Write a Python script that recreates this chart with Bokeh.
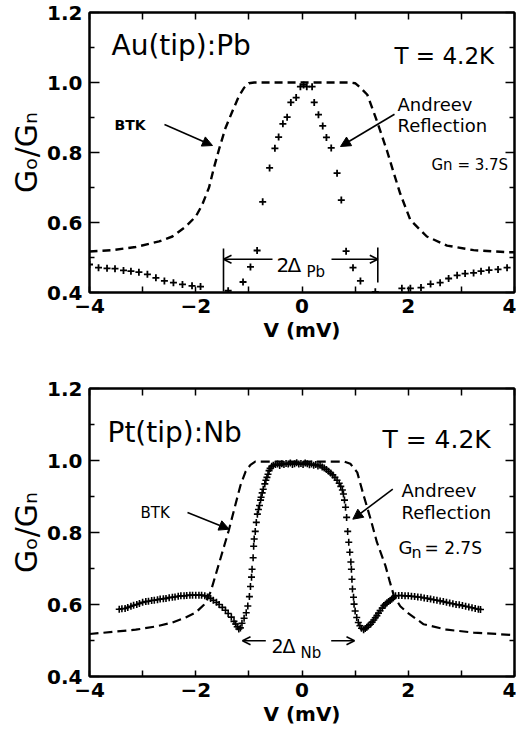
import numpy as np
from bokeh.plotting import figure
from bokeh.models import (Label, Arrow, NormalHead, OpenHead, LinearAxis, FixedTicker, Range1d,
                          PrintfTickFormatter)
from bokeh.layouts import column
from bokeh.embed import file_html
from bokeh.resources import INLINE

# ---------------- data ----------------
# Upper panel: Au(tip):Pb
pb_btk_v = [-4.0, -3.57, -3.13, -2.69, -2.44, -2.19, -2.0, -1.88, -1.75, -1.66, -1.56, -1.44,
            -1.31, -1.19, -1.09, -1.0, -0.9, 0.9, 1.0, 1.1, 1.23, 1.41, 1.6, 1.72, 1.85, 2.04,
            2.35, 2.73, 3.23, 3.86, 4.0]
pb_btk_g = [0.517, 0.521, 0.530, 0.546, 0.560, 0.588, 0.617, 0.650, 0.700, 0.755, 0.810, 0.870,
            0.918, 0.960, 0.985, 0.998, 1.0, 1.0, 0.998, 0.985, 0.965, 0.890, 0.805, 0.745, 0.682,
            0.607, 0.560, 0.534, 0.521, 0.515, 0.515]

pb_ar_v = [-4.00, -3.83, -3.67, -3.52, -3.36, -3.22, -3.07, -2.91, -2.75, -2.59, -2.42, -2.25,
           -2.07, -1.91, -1.39, -1.11, -0.97, -0.845, -0.74, -0.61, -0.51, -0.44, -0.36, -0.28,
           -0.21, -0.11, -0.03, 0.03, 0.09, 0.19, 0.23, 0.31, 0.39, 0.46, 0.55, 0.66, 0.74, 0.83,
           0.96, 1.10, 1.38, 1.88, 2.04, 2.24, 2.42, 2.60, 2.76, 2.92, 3.07, 3.23, 3.37, 3.52,
           3.69, 3.86]
pb_ar_g = [0.480, 0.471, 0.469, 0.468, 0.463, 0.461, 0.458, 0.452, 0.442, 0.433, 0.428, 0.423,
           0.419, 0.417, 0.405, 0.430, 0.473, 0.520, 0.659, 0.756, 0.812, 0.844, 0.882, 0.901,
           0.943, 0.957, 0.988, 0.993, 0.988, 0.988, 0.943, 0.908, 0.876, 0.843, 0.813, 0.741,
           0.664, 0.518, 0.471, 0.433, 0.402, 0.412, 0.412, 0.414, 0.424, 0.428, 0.440, 0.449,
           0.454, 0.456, 0.461, 0.464, 0.466, 0.471]

# Lower panel: Pt(tip):Nb
nb_btk_v = [-4.0, -3.56, -3.13, -2.75, -2.44, -2.19, -2.0, -1.84, -1.72, -1.63, -1.53, -1.45,
            -1.38, -1.28, -1.16, -1.06, -0.97, -0.88, 0.8, 0.91, 1.04, 1.16, 1.29, 1.41, 1.48,
            1.57, 1.65, 1.73, 1.85, 1.98, 2.29, 2.73, 3.23, 4.0]
nb_btk_g = [0.518, 0.524, 0.530, 0.539, 0.550, 0.564, 0.578, 0.600, 0.635, 0.680, 0.730, 0.770,
            0.805, 0.862, 0.930, 0.970, 0.988, 0.997, 0.997, 0.991, 0.967, 0.903, 0.838, 0.773,
            0.745, 0.708, 0.665, 0.624, 0.595, 0.578, 0.545, 0.530, 0.522, 0.515]

nb_ar_v = [-3.44, -3.39, -3.33, -3.28, -3.22, -3.17, -3.11, -3.06, -3.00, -2.94, -2.89, -2.83,
           -2.78, -2.72, -2.67, -2.61, -2.56, -2.50, -2.44, -2.39, -2.33, -2.28, -2.22, -2.17,
           -2.11, -2.06, -2.00, -1.94, -1.89, -1.83, -1.78, -1.72, -1.67, -1.61, -1.56, -1.50,
           -1.44, -1.39, -1.33, -1.28, -1.25, -1.22, -1.19, -1.16, -1.13, -1.09, -1.05, -1.02,
           -0.99, -0.97, -0.95, -0.94, -0.92, -0.91, -0.90, -0.88, -0.86, -0.84, -0.82, -0.80,
           -0.78, -0.77, -0.75, -0.73, -0.70, -0.68, -0.66, -0.64, -0.62, -0.60, -0.57, -0.54,
           -0.50, -0.46, -0.42, -0.38, -0.34, -0.30, -0.26, -0.22, -0.18, -0.14, -0.10, -0.06,
           -0.02, 0.02, 0.06, 0.10, 0.14, 0.18, 0.22, 0.26, 0.30, 0.34, 0.38, 0.42, 0.46, 0.50,
           0.54, 0.58, 0.62, 0.66, 0.70, 0.73, 0.76, 0.78, 0.80, 0.82, 0.84, 0.86, 0.88, 0.90,
           0.92, 0.93, 0.94, 0.95, 0.97, 0.98, 1.00, 1.03, 1.06, 1.09, 1.12, 1.16, 1.19, 1.22,
           1.25, 1.29, 1.32, 1.35, 1.38, 1.41, 1.44, 1.47, 1.51, 1.54, 1.57, 1.60, 1.63, 1.66,
           1.69, 1.72, 1.76, 1.82, 1.88, 1.94, 2.00, 2.06, 2.12, 2.18, 2.24, 2.30, 2.36, 2.42,
           2.48, 2.54, 2.60, 2.66, 2.72, 2.78, 2.84, 2.90, 2.96, 3.02, 3.08, 3.14, 3.20, 3.26,
           3.32, 3.36]
nb_ar_g = [0.587, 0.588, 0.589, 0.592, 0.595, 0.598, 0.600, 0.603, 0.606, 0.608, 0.609, 0.611,
           0.612, 0.613, 0.615, 0.616, 0.617, 0.619, 0.620, 0.621, 0.623, 0.624, 0.624, 0.625,
           0.626, 0.626, 0.626, 0.626, 0.626, 0.624, 0.621, 0.617, 0.612, 0.606, 0.600, 0.592,
           0.584, 0.575, 0.565, 0.553, 0.546, 0.538, 0.532, 0.535, 0.548, 0.562, 0.577, 0.596,
           0.622, 0.650, 0.676, 0.698, 0.730, 0.762, 0.782, 0.803, 0.828, 0.851, 0.864, 0.875,
           0.890, 0.898, 0.910, 0.920, 0.935, 0.945, 0.953, 0.962, 0.972, 0.978, 0.984, 0.987,
           0.989, 0.990, 0.986, 0.991, 0.989, 0.992, 0.990, 0.993, 0.989, 0.991, 0.994, 0.990,
           0.992, 0.989, 0.993, 0.991, 0.988, 0.990, 0.987, 0.989, 0.985, 0.987, 0.982, 0.979,
           0.975, 0.970, 0.965, 0.960, 0.953, 0.945, 0.937, 0.928, 0.918, 0.907, 0.890, 0.870,
           0.842, 0.803, 0.773, 0.745, 0.718, 0.698, 0.670, 0.643, 0.620, 0.601, 0.582, 0.564,
           0.550, 0.541, 0.534, 0.530, 0.533, 0.537, 0.541, 0.545, 0.551, 0.557, 0.563, 0.569,
           0.576, 0.583, 0.590, 0.597, 0.601, 0.605, 0.608, 0.611, 0.615, 0.619, 0.624, 0.625,
           0.625, 0.624, 0.624, 0.623, 0.622, 0.621, 0.620, 0.618, 0.617, 0.615, 0.613, 0.612,
           0.610, 0.608, 0.606, 0.604, 0.602, 0.600, 0.599, 0.597, 0.595, 0.593, 0.591, 0.589,
           0.587, 0.586]

x_major = [-4, -2, 0, 2, 4]
x_minor = [-3, -1, 1, 3]
x_all = [-4, -3, -2, -1, 0, 1, 2, 3, 4]
x_tick_labels = {-4: "\u22124", -2: "\u22122", 0: "0", 2: "2", 4: "4"}
y_major = [0.4, 0.6, 0.8, 1.0, 1.2]
y_minor = [0.5, 0.7, 0.9, 1.1]
x_title = "V (mV)"
y_title = "G\u2092/G\u2099"

# ---------------- layout ----------------
W = 516
FL, FR = 97, 522   # frame left/right in page px
FONT = "DejaVu Sans"


def make_fig(h, top_b, bot_b):
    p = figure(width=W, height=h, x_range=Range1d(-4, 4), y_range=Range1d(0.4, 1.2),
               output_backend="svg", toolbar_location=None,
               min_border_left=FL - 8, min_border_right=W + 8 - FR,
               min_border_top=top_b, min_border_bottom=bot_b)
    p.grid.visible = False
    p.outline_line_color = "black"
    p.outline_line_width = 2
    p.background_fill_color = "white"
    p.border_fill_color = "white"

    xa = p.xaxis[0]
    xa.ticker = FixedTicker(ticks=x_major, minor_ticks=x_minor)
    xa.major_label_overrides = x_tick_labels
    xa.major_tick_in = 6
    xa.major_tick_out = 0
    xa.minor_tick_in = 6
    xa.minor_tick_out = 0
    xa.axis_line_width = 2
    xa.axis_line_color = "black"
    xa.major_tick_line_width = 1.5
    xa.minor_tick_line_width = 1.5
    xa.major_label_text_font = FONT
    xa.major_label_text_font_style = "bold"
    xa.major_label_text_font_size = "20px"
    xa.major_label_text_color = "black"
    xa.major_label_standoff = 6
    xa.axis_label = x_title
    xa.axis_label_text_font = FONT
    xa.axis_label_text_font_style = "bold"
    xa.axis_label_text_font_size = "20px"
    xa.axis_label_text_color = "black"
    xa.axis_label_standoff = 2

    ya = p.yaxis[0]
    ya.ticker = FixedTicker(ticks=y_major, minor_ticks=y_minor)
    ya.formatter = PrintfTickFormatter(format="%.1f")
    ya.major_tick_in = 10
    ya.major_tick_out = 0
    ya.minor_tick_in = 5
    ya.minor_tick_out = 0
    ya.axis_line_width = 2
    ya.axis_line_color = "black"
    ya.major_tick_line_width = 1.5
    ya.minor_tick_line_width = 1.5
    ya.major_label_text_font = FONT
    ya.major_label_text_font_style = "bold"
    ya.major_label_text_font_size = "20px"
    ya.major_label_text_color = "black"
    ya.major_label_standoff = 7
    ya.axis_label = y_title
    ya.axis_label_text_font = FONT
    ya.axis_label_text_font_style = "normal"
    ya.axis_label_text_font_size = "30px"
    ya.axis_label_text_color = "black"
    ya.axis_label_standoff = 0

    top = LinearAxis(ticker=FixedTicker(ticks=x_all), major_label_text_font_size="1px",
                     major_label_text_color=None,
                     major_label_standoff=0, major_tick_in=7, major_tick_out=0,
                     minor_tick_in=0, minor_tick_out=0, axis_line_width=2,
                     major_tick_line_width=1.5)
    right = LinearAxis(ticker=FixedTicker(ticks=y_major, minor_ticks=y_minor),
                       major_label_text_font_size="1px", major_label_text_color=None,
                       major_label_standoff=0,
                       major_tick_in=9, major_tick_out=0, minor_tick_in=5, minor_tick_out=0,
                       axis_line_width=2, major_tick_line_width=1.5, minor_tick_line_width=1.5)
    p.add_layout(top, "above")
    p.add_layout(right, "right")
    return p


def conv(geom, xp, yp):
    ytop, ybot = geom
    return -4 + (xp - FL) * 8.0 / (FR - FL), 0.4 + (ybot - yp) * 0.8 / (ybot - ytop)


def lab(p, geom, xp, yp, text, size, bold=False):
    x, y = conv(geom, xp, yp)
    p.add_layout(Label(x=x, y=y, text=text, text_font=FONT, text_font_size=f"{size}px",
                       text_font_style="bold" if bold else "normal",
                       text_align="left", text_baseline="alphabetic", text_color="black"))


def arr(p, geom, x0, y0, x1, y1, head="normal", lw=1.6):
    xs, ys = conv(geom, x0, y0)
    xe, ye = conv(geom, x1, y1)
    if head == "normal":
        end = NormalHead(size=10, fill_color="black", line_color="black", line_width=1)
    elif head == "open":
        end = OpenHead(size=8, line_color="black", line_width=1.6)
    else:
        end = None
    p.add_layout(Arrow(x_start=xs, y_start=ys, x_end=xe, y_end=ye, start=None, end=end,
                       line_color="black", line_width=lw))


# ---------------- upper panel ----------------
H1 = 364
g1 = (20, 300)
p1 = make_fig(H1, 12, 72)
p1.line(pb_btk_v, pb_btk_g, line_color="black", line_width=2.4, line_dash="8 5")
p1.scatter(pb_ar_v, pb_ar_g, marker="cross", size=7, line_color="black", line_width=1.8)

lab(p1, g1, 119, 53, "Au(tip):Pb", 28)
lab(p1, g1, 402, 63, "T = 4.2K", 23)
lab(p1, g1, 122, 132, "BTK", 14, bold=True)
arr(p1, g1, 172, 132, 220, 153)
lab(p1, g1, 405, 112, "Andreev", 18)
lab(p1, g1, 405, 133, "Reflection", 18)
arr(p1, g1, 402, 121.7, 348, 154)
lab(p1, g1, 439, 172, "Gn = 3.7S", 15)
# 2 Delta_Pb bracket
arr(p1, g1, 280, 266.7, 231, 266.7, head="open")
arr(p1, g1, 339, 266.7, 385.3, 266.7, head="open")
arr(p1, g1, 231, 256, 231, 299, head=None)
arr(p1, g1, 385.3, 255, 385.3, 290, head=None)
lab(p1, g1, 284, 272, "2", 20)
lab(p1, g1, 295, 272, "\u0394", 20)
lab(p1, g1, 314, 279, "Pb", 15)

# ---------------- lower panel ----------------
H2 = 369
g2 = (396, 684)
p2 = make_fig(H2, 24, 57)
p2.line(nb_btk_v, nb_btk_g, line_color="black", line_width=2.2, line_dash="9 5")
p2.scatter(nb_ar_v, nb_ar_g, marker="cross", size=7, line_color="black", line_width=1.6)

lab(p2, g2, 115, 440, "Pt(tip):Nb", 28)
lab(p2, g2, 390, 447, "T = 4.2K", 25)
lab(p2, g2, 148, 520, "BTK", 15)
arr(p2, g2, 195, 520, 236.7, 536.7)
lab(p2, g2, 409, 498, "Andreev", 18)
lab(p2, g2, 409, 520, "Reflection", 18)
arr(p2, g2, 400.3, 496.7, 360.3, 526.7)
lab(p2, g2, 406, 555, "G", 18)
lab(p2, g2, 419, 560, "n", 16)
lab(p2, g2, 432, 555, "= 2.7S", 17)
arr(p2, g2, 273.3, 648.3, 250, 648.3, head="open")
arr(p2, g2, 338.7, 648.3, 362, 648.3, head="open")
lab(p2, g2, 279, 653, "2", 19)
lab(p2, g2, 290, 653, "\u0394", 19)
lab(p2, g2, 308, 660, "Nb", 15)

layout = column(p1, p2, spacing=0)
open("out.html", "w").write(file_html(layout, INLINE))
